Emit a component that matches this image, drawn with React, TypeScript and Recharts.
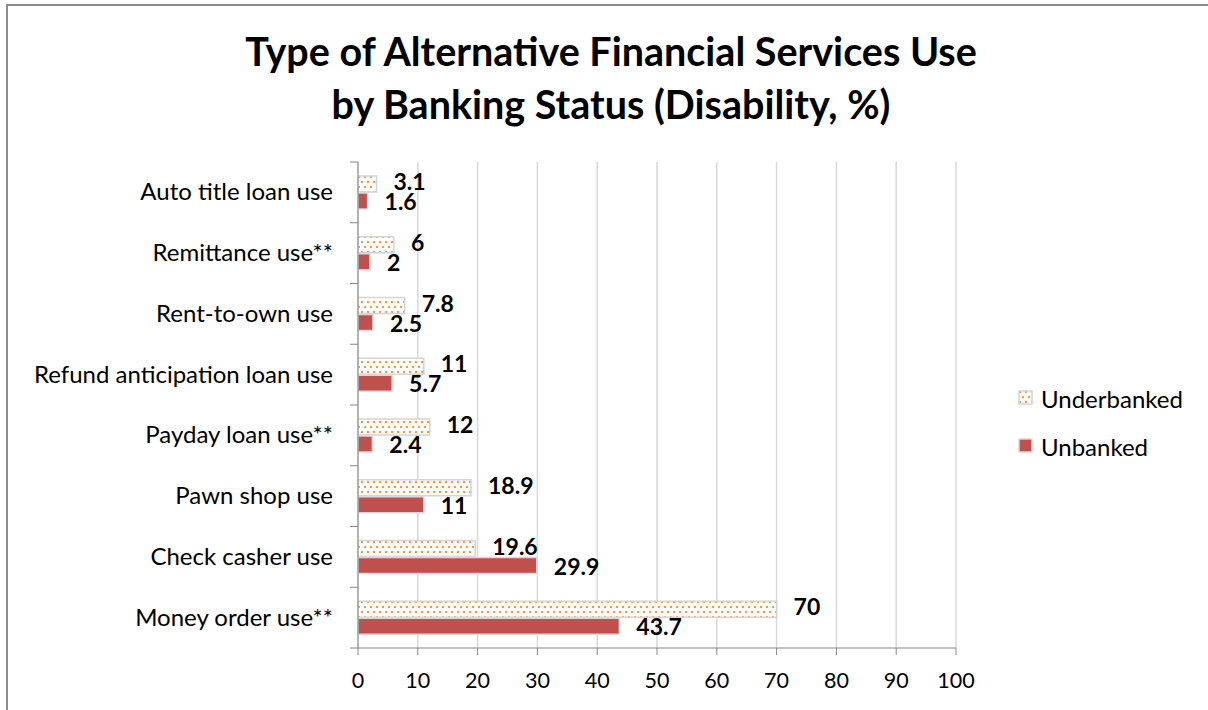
import { Bar, BarChart, CartesianGrid, LabelList, XAxis, YAxis } from 'recharts';

const categories = [
    'Auto title loan use',
    'Remittance use**',
    'Rent-to-own use',
    'Refund anticipation loan use',
    'Payday loan use**',
    'Pawn shop use',
    'Check casher use',
    'Money order use**',
];
const underbanked = [3.1, 6, 7.8, 11, 12, 18.9, 19.6, 70];
const unbanked = [1.6, 2, 2.5, 5.7, 2.4, 11, 29.9, 43.7];
const xTicks = [0, 10, 20, 30, 40, 50, 60, 70, 80, 90, 100];

const data = categories.map((name, i) => ({
    name,
    underbanked: underbanked[i],
    unbanked: unbanked[i],
}));

const FONT = 'Lato, "Open Sans", sans-serif';
const W = 1208;
const H = 710;
const PLOT_LEFT = 358;
const PLOT_RIGHT = 956;
const PLOT_TOP = 162;
const PLOT_BOTTOM = 648;
const BAND = (PLOT_BOTTOM - PLOT_TOP) / categories.length;

function CategoryTick(props: any) {
    const { y, payload, index } = props;
    const top = y - BAND / 2;
    return (
        <g>
            <line x1={PLOT_LEFT - 8} x2={PLOT_LEFT} y1={top} y2={top} stroke="#868686" />
            {index === categories.length - 1 && (
                <line x1={PLOT_LEFT - 8} x2={PLOT_LEFT} y1={top + BAND} y2={top + BAND} stroke="#868686" />
            )}
            <text x={PLOT_LEFT - 25} y={y} dy={8} textAnchor="end" fontSize={24} fontFamily={FONT} fill="#000">
                {payload.value}
            </text>
        </g>
    );
}

export default function App() {
    return (
        <div style={{ position: 'absolute', left: 0, top: 0, width: W, height: H, overflow: 'hidden', background: '#fff' }}>
            <div style={{ position: 'absolute', left: 6, top: 4, width: W, height: H, border: '2px solid #8c8c8c', boxSizing: 'border-box' }} />
            <div style={{ position: 'absolute', left: 0, top: 24, width: 1222, textAlign: 'center', fontFamily: FONT, fontWeight: 'bold', fontSize: 39.5, lineHeight: '53px', color: '#000' }}>
                Type of Alternative Financial Services Use
                <br />
                by Banking Status (Disability, %)
            </div>
            <div style={{ position: 'absolute', left: 0, top: 0 }}>
                <BarChart
                    width={W}
                    height={H}
                    data={data}
                    layout="vertical"
                    margin={{ top: PLOT_TOP, right: W - PLOT_RIGHT, bottom: H - PLOT_BOTTOM - 30, left: 0 }}
                    barCategoryGap={14}
                    barGap={1}
                >
                    <defs>
                        <pattern id="dots" width="6" height="10" patternUnits="userSpaceOnUse">
                            <rect width="6" height="10" fill="#fff" />
                            <rect x="1" y="1" width="2" height="2" fill="#F79646" />
                            <rect x="4" y="6" width="2" height="2" fill="#F79646" />
                        </pattern>
                    </defs>
                    <CartesianGrid horizontal={false} stroke="#d9d9d9" strokeWidth={1.5} />
                    <XAxis
                        type="number"
                        domain={[0, 100]}
                        ticks={xTicks}
                        interval={0}
                        stroke="#868686"
                        tickSize={7}
                        tickMargin={18}
                        tick={{ fill: '#000', fontSize: 21.5, fontFamily: FONT }}
                    />
                    <YAxis
                        type="category"
                        dataKey="name"
                        width={PLOT_LEFT}
                        stroke="#868686"
                        tickLine={false}
                        interval={0}
                        tick={<CategoryTick />}
                    />
                    <Bar dataKey="underbanked" name="Underbanked" fill="url(#dots)" stroke="#d4d4d4" strokeWidth={1.5} barSize={16} isAnimationActive={false}>
                        <LabelList dataKey="underbanked" position="right" offset={17} dy={-2} fill="#000" fontSize={23} fontWeight="bold" fontFamily={FONT} />
                    </Bar>
                    <Bar dataKey="unbanked" name="Unbanked" fill="#C0504D" stroke="#d9d9d9" strokeWidth={1.5} barSize={16} isAnimationActive={false}>
                        <LabelList dataKey="unbanked" position="right" offset={17} dy={1} fill="#000" fontSize={23} fontWeight="bold" fontFamily={FONT} />
                    </Bar>
                </BarChart>
            </div>
            <div style={{ position: 'absolute', left: 1018, top: 384, fontFamily: FONT, fontSize: 24, color: '#000' }}>
                <div style={{ display: 'flex', alignItems: 'center', height: 28 }}>
                    <svg width={16} height={16} style={{ marginRight: 7 }}>
                        <rect x={1} y={1} width={13} height={13} fill="url(#dots)" stroke="#d4d4d4" strokeWidth={1.5} />
                    </svg>
                    Underbanked
                </div>
                <div style={{ display: 'flex', alignItems: 'center', height: 28, marginTop: 20 }}>
                    <svg width={16} height={16} style={{ marginRight: 7 }}>
                        <rect x={1} y={1} width={13} height={13} fill="#C0504D" stroke="#d9d9d9" strokeWidth={1.5} />
                    </svg>
                    Unbanked
                </div>
            </div>
        </div>
    );
}
